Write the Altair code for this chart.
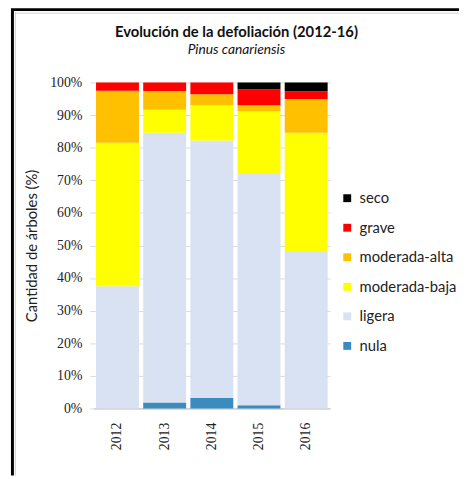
import altair as alt
import pandas as pd

years = ["2012", "2013", "2014", "2015", "2016"]
categories = ["nula", "ligera", "moderada-baja", "moderada-alta", "grave", "seco"]
nula = [0.0, 1.8, 3.3, 1.0, 0.0]
ligera = [37.5, 82.8, 78.9, 71.2, 48.3]
mod_baja = [44.0, 7.0, 10.8, 19.0, 36.3]
mod_alta = [16.0, 5.8, 3.4, 1.8, 10.3]
grave = [2.5, 2.6, 3.6, 4.9, 2.4]
seco = [0.0, 0.0, 0.0, 2.1, 2.7]
colors = ["#3B8BBE", "#D9E2F3", "#FFFF00", "#FFC000", "#FF0000", "#000000"]

series = [nula, ligera, mod_baja, mod_alta, grave, seco]
rows = []
for ci, (cat, vals) in enumerate(zip(categories, series)):
    for y, v in zip(years, vals):
        rows.append({"year": y, "cat": cat, "value": v, "ord": ci})
df = pd.DataFrame(rows)

legend_order = list(reversed(categories))
legend_colors = list(reversed(colors))

W, H = 240, 331
PL, PT = 87, 72
PR, PB = 467 - 8 - 87 - 240 - 1, 479 - 8 - 72 - 331 - 1

bars = alt.Chart(df).mark_bar().encode(
    x=alt.X("year:N", title=None,
            scale=alt.Scale(paddingInner=0.09, paddingOuter=0.05),
            axis=alt.Axis(labelAngle=270, labelFont="Liberation Serif", labelFontSize=14,
                          labelColor="#222", ticks=False, domainColor="#BFBFBF",
                          labelPadding=14, labelBaseline="middle", labelAlign="right")),
    y=alt.Y("value:Q", stack=True, title="Cantidad de árboles (%)",
            scale=alt.Scale(domain=[0, 100], nice=False),
            axis=alt.Axis(values=list(range(0, 101, 10)), labelExpr="datum.value + '%'",
                          labelFont="Liberation Serif", labelFontSize=14, labelColor="#222",
                          domain=False, tickColor="#D9D9D9", tickSize=4, gridColor="#D9D9D9",
                          labelPadding=8, titleFont="Lato", titleFontSize=15,
                          titleFontWeight="normal", titleColor="#222", titlePadding=10)),
    color=alt.Color("cat:N", title=None,
                    scale=alt.Scale(domain=legend_order, range=legend_colors),
                    legend=alt.Legend(orient="none", legendX=250, legendY=110,
                                      symbolType="square", symbolSize=64,
                                      symbolStrokeWidth=0, labelFont="Lato",
                                      labelFontSize=15, labelColor="#222",
                                      rowPadding=14, labelOffset=5)),
    order=alt.Order("ord:Q", sort="ascending"),
)

one = pd.DataFrame({"k": [0]})
border = alt.Chart(one).mark_rule(color="black", strokeWidth=3).encode(
    x=alt.value(12.5 - 95), y=alt.value(6 - 80), y2=alt.value(479 - 80)
)
border_top = alt.Chart(one).mark_rule(color="black", strokeWidth=3).encode(
    x=alt.value(11 - 95), x2=alt.value(467 - 95), y=alt.value(6 - 80)
)
inner_left = alt.Chart(one).mark_rule(color="#D0D0D0", strokeWidth=1).encode(
    x=alt.value(15.5 - 95), y=alt.value(9 - 80), y2=alt.value(479 - 80)
)
inner_top = alt.Chart(one).mark_rule(color="#D0D0D0", strokeWidth=1).encode(
    x=alt.value(15 - 95), x2=alt.value(467 - 95), y=alt.value(9.5 - 80)
)

chart = alt.layer(bars, border, border_top, inner_left, inner_top).properties(
    width=W, height=H,
    autosize=alt.AutoSizeParams(type="none"),
    padding={"left": PL, "top": PT, "right": PR, "bottom": PB},
    title=alt.TitleParams(
        "Evolución de la defoliación (2012-16)",
        subtitle="Pinus canariensis",
        font="Lato", fontSize=15, fontWeight="bold", color="#111",
        subtitleFont="Lato", subtitleFontSize=14, subtitleFontStyle="italic",
        subtitleColor="#111", subtitlePadding=4,
        anchor="middle", dx=25, offset=-50,
    ),
).configure_view(stroke=None).configure_axisY(grid=True).configure_axisX(grid=False)

chart.save("out.html", embed_options={"renderer": "svg", "actions": False})
